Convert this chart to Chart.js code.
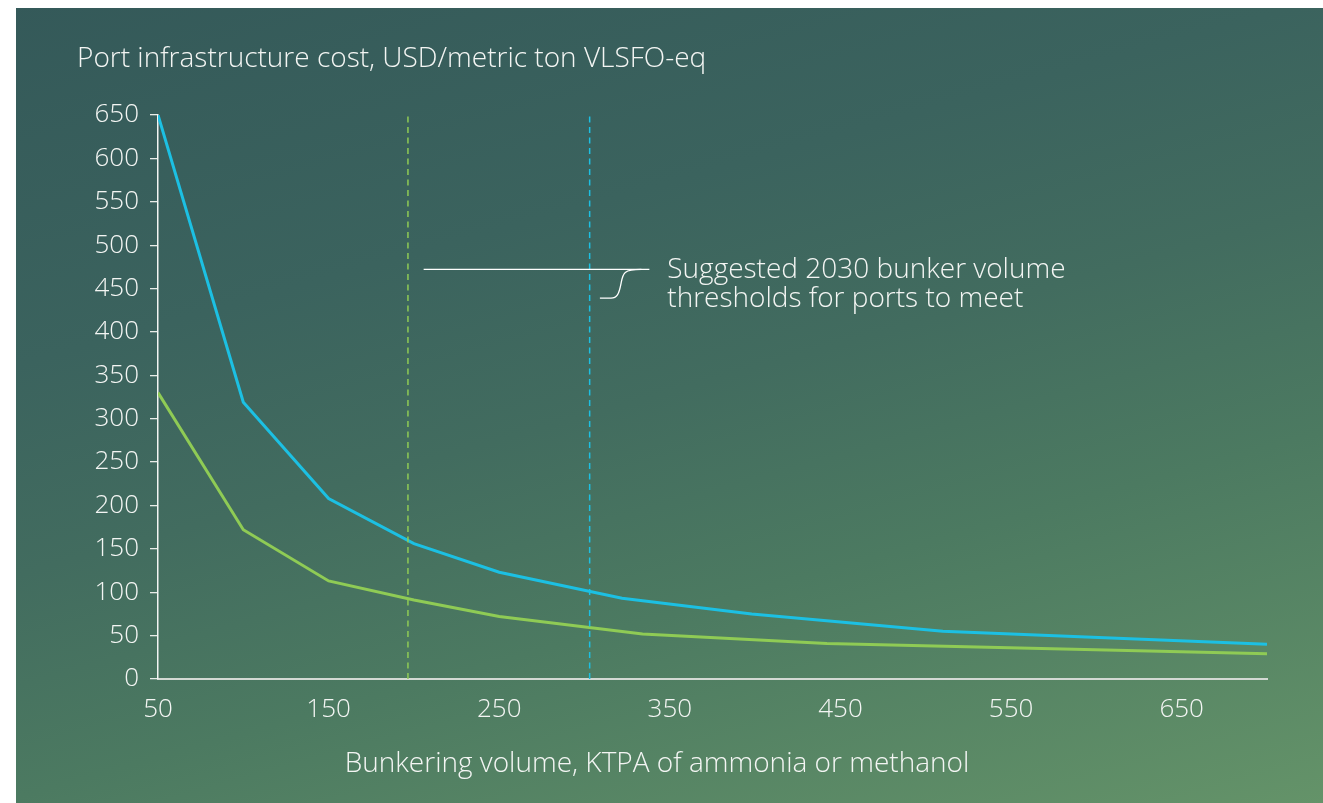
<!DOCTYPE html>
<html>
<head>
<meta charset="utf-8">
<title>Port infrastructure cost</title>
<script src="https://cdn.jsdelivr.net/npm/chart.js@4/dist/chart.umd.min.js"></script>
<style>
    html, body { margin: 0; padding: 0; background: #ffffff; }
    #wrap { width: 1323px; height: 803px; position: relative; }
</style>
</head>
<body>
<div id="wrap"><canvas id="costChart"></canvas></div>
<script>
// Port infrastructure cost vs bunkering volume

const yTitle = 'Port infrastructure cost, USD/metric ton VLSFO-eq';
const xTitle = 'Bunkering volume, KTPA of ammonia or methanol';
const noteLines = ['Suggested 2030 bunker volume', 'thresholds for ports to meet'];

const xTicks = [50, 150, 250, 350, 450, 550, 650];

// Upper curve (cyan)
const cyanX = [50, 100, 150, 200, 250, 322, 398, 510, 700];
const cyanY = [650, 319, 208, 156, 123, 93, 75, 55, 40];

// Lower curve (green)
const greenX = [50, 100, 150, 200, 250, 334, 442, 700];
const greenY = [330, 172, 113, 91, 72, 52, 41, 29];

// Suggested thresholds
const greenThreshold = 196.5;
const cyanThreshold = 303;

const CYAN = '#1cc0e3';
const GREEN = '#8fcb55';
const TEXT = '#f3f5f3';
const FONT = '"Open Sans", sans-serif';

const toPoints = (xs, ys) => xs.map((x, i) => ({ x: x, y: ys[i] }));

// Background + free text + annotation bracket
const decorPlugin = {
    id: 'decor',
    beforeDraw(chart) {
        const { ctx, width, height } = chart;
        ctx.save();
        ctx.fillStyle = '#ffffff';
        ctx.fillRect(0, 0, width, height);
        const g = ctx.createLinearGradient(0, 0, 320, 1144);
        g.addColorStop(0, '#345959');
        g.addColorStop(0.3, '#3b635e');
        g.addColorStop(0.47, '#426c5f');
        g.addColorStop(0.65, '#4c7a61');
        g.addColorStop(1, '#68976a');
        ctx.fillStyle = g;
        ctx.fillRect(16, 8, width - 16, height - 8);
        ctx.restore();
    },
    afterDraw(chart) {
        const { ctx, scales } = chart;
        const xs = scales.x, ys = scales.y;
        ctx.save();
        ctx.fillStyle = TEXT;
        ctx.font = '300 28px ' + FONT;
        ctx.textBaseline = 'alphabetic';
        ctx.textAlign = 'left';
        ctx.fillText(yTitle, 77, 67);

        ctx.textAlign = 'center';
        ctx.fillText(xTitle, 657, 772);

        // note text
        ctx.textAlign = 'left';
        const noteX = xs.getPixelForValue(348.5);
        ctx.fillText(noteLines[0], noteX, 278);
        ctx.fillText(noteLines[1], noteX, 307);

        // bracket lines
        const yTop = ys.getPixelForValue(472);
        const yLow = ys.getPixelForValue(439);
        const xa = xs.getPixelForValue(205.7);
        const xb = xs.getPixelForValue(338);
        const xc = xs.getPixelForValue(309);
        const xd = xs.getPixelForValue(319);
        ctx.strokeStyle = '#ffffff';
        ctx.lineWidth = 1.3;
        ctx.beginPath();
        ctx.moveTo(xa, yTop);
        ctx.lineTo(xb, yTop);
        ctx.stroke();
        ctx.beginPath();
        ctx.moveTo(xb - 8, yTop);
        ctx.bezierCurveTo(xd + 6, yTop, xd + 6, yTop + 4, xd + 4, (yTop + yLow) / 2);
        ctx.bezierCurveTo(xd + 2, yLow - 4, xd, yLow, xd - 6, yLow);
        ctx.lineTo(xc, yLow);
        ctx.stroke();
        ctx.restore();
    }
};

const lineStyle = (color) => ({
    borderColor: color,
    backgroundColor: color,
    borderWidth: 3,
    pointRadius: 0,
    tension: 0,
    fill: false
});

const dashStyle = (color) => ({
    borderColor: color,
    backgroundColor: color,
    borderWidth: 1.5,
    borderDash: [6, 4.5],
    pointRadius: 0,
    fill: false
});

const ctx = document.getElementById('costChart').getContext('2d');

new Chart(ctx, {
    type: 'line',
    data: {
        datasets: [
            Object.assign({ label: 'green threshold', data: [{ x: greenThreshold, y: 0 }, { x: greenThreshold, y: 650 }] }, dashStyle(GREEN)),
            Object.assign({ label: 'cyan threshold', data: [{ x: cyanThreshold, y: 0 }, { x: cyanThreshold, y: 650 }] }, dashStyle(CYAN)),
            Object.assign({ label: 'Lower', data: toPoints(greenX, greenY) }, lineStyle(GREEN)),
            Object.assign({ label: 'Upper', data: toPoints(cyanX, cyanY) }, lineStyle(CYAN))
        ]
    },
    plugins: [decorPlugin],
    options: {
        responsive: true,
        maintainAspectRatio: false,
        animation: false,
        layout: {
            padding: { left: 0, top: 115, right: 56, bottom: 64 }
        },
        plugins: {
            legend: { display: false },
            tooltip: { enabled: false },
            title: { display: false }
        },
        scales: {
            x: {
                type: 'linear',
                min: 50,
                max: 700,
                afterBuildTicks: (scale) => {
                    scale.ticks = xTicks.map(v => ({ value: v }));
                },
                afterFit: (scale) => { scale.height = 60; },
                grid: { display: false },
                border: { display: true, color: '#d3d9d3', width: 2 },
                ticks: {
                    color: TEXT,
                    padding: 7,
                    maxRotation: 0,
                    autoSkip: false,
                    font: { family: FONT, size: 26, weight: '300' }
                }
            },
            y: {
                type: 'linear',
                min: 0,
                max: 650,
                afterFit: (scale) => { scale.width = 158; },
                grid: {
                    display: true,
                    drawOnChartArea: false,
                    drawTicks: true,
                    tickLength: 8,
                    color: '#e8ece8',
                    lineWidth: 1.3
                },
                border: { display: true, color: '#f2f4f2', width: 1.5 },
                ticks: {
                    stepSize: 50,
                    color: TEXT,
                    padding: 11,
                    font: { family: FONT, size: 26, weight: '300' }
                }
            }
        }
    }
});
</script>
</body>
</html>
